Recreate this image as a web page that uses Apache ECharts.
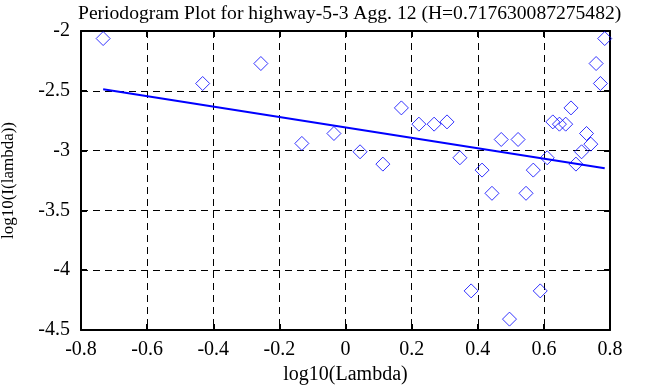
<!DOCTYPE html>
<html><head><meta charset="utf-8">
<script src="https://cdn.jsdelivr.net/npm/echarts@6/dist/echarts.min.js"></script>
<style>html,body{margin:0;padding:0;background:#fff}#c{width:663px;height:387px}</style>
</head><body><div id="c"></div>
<script>
var titleText = 'Periodogram Plot for highway-5-3 Agg. 12 (H=0.717630087275482)';
var xName = 'log10(Lambda)';
var yName = 'log10(I(lambda))';
var xTicks = [-0.8, -0.6, -0.4, -0.2, 0, 0.2, 0.4, 0.6, 0.8];
var yTicks = [-4.5, -4, -3.5, -3, -2.5, -2];
var logLambda = [-0.733, -0.432, -0.256, -0.132, -0.035, 0.044, 0.113, 0.169, 0.222, 0.268, 0.307, 0.346, 0.380, 0.413, 0.443, 0.471, 0.496, 0.522, 0.546, 0.568, 0.589, 0.610, 0.627, 0.647, 0.666, 0.682, 0.697, 0.714, 0.729, 0.742, 0.758, 0.771, 0.784];
var logI = [-2.063, -2.439, -2.272, -2.940, -2.857, -3.010, -3.113, -2.643, -2.779, -2.779, -2.760, -3.060, -4.173, -3.163, -3.357, -2.907, -4.409, -2.907, -3.357, -3.163, -4.173, -3.060, -2.760, -2.779, -2.779, -2.643, -3.113, -3.010, -2.857, -2.946, -2.272, -2.439, -2.063];
var fitX = [-0.733, 0.784];
var fitY = [-2.487, -3.147];

var font = 'Liberation Serif';
var pts = logLambda.map(function(x, i){ return [x, logI[i]]; });
var fit = fitX.map(function(x, i){ return [x, fitY[i]]; });
var chart = echarts.init(document.getElementById('c'));
var lineStyleAxis = {color:'#000', width:2};
var tickStyle = {show:true, inside:true, length:6, lineStyle:{color:'#000', width:2}};
var fmt = function(v){ return String(Math.round(v*10)/10); };
chart.setOption({
  animation:false,
  backgroundColor:'#fff',
  title:{text:titleText, left:73, top:-1, textStyle:{fontFamily:font, fontSize:19.6, fontWeight:'normal', color:'#000'}},
  grid:{left:81, right:53, top:31, bottom:57, containLabel:false, outerBoundsMode:'none'},
  xAxis:[{
    type:'value', min:xTicks[0], max:xTicks[xTicks.length-1], interval:0.2,
    name:xName, nameLocation:'middle', nameGap:35,
    nameTextStyle:{fontFamily:font, fontSize:20, color:'#000'},
    axisLine:{show:true, onZero:false, lineStyle:lineStyleAxis},
    axisTick:tickStyle,
    axisLabel:{fontFamily:font, fontSize:20, color:'#000', margin:10, formatter:fmt},
    splitLine:{show:true, lineStyle:{color:'#000', type:[7,5], width:1}}
  },{
    type:'value', position:'top', min:xTicks[0], max:xTicks[xTicks.length-1], interval:0.2,
    axisLine:{show:true, onZero:false, lineStyle:lineStyleAxis},
    axisTick:tickStyle,
    axisLabel:{show:false}, splitLine:{show:false}
  }],
  yAxis:[{
    type:'value', min:yTicks[0], max:yTicks[yTicks.length-1], interval:0.5,
    name:yName, nameLocation:'middle', nameGap:64, nameRotate:90,
    nameTextStyle:{fontFamily:font, fontSize:17, color:'#000'},
    axisLine:{show:true, onZero:false, lineStyle:lineStyleAxis},
    axisTick:tickStyle,
    axisLabel:{fontFamily:font, fontSize:20, color:'#000', margin:11, formatter:fmt},
    splitLine:{show:true, lineStyle:{color:'#000', type:[7,5], width:1}}
  },{
    type:'value', position:'right', min:yTicks[0], max:yTicks[yTicks.length-1], interval:0.5,
    axisLine:{show:true, onZero:false, lineStyle:lineStyleAxis},
    axisTick:tickStyle,
    axisLabel:{show:false}, splitLine:{show:false}
  }],
  series:[{
    type:'scatter', data:pts, symbol:'diamond', symbolSize:14,
    itemStyle:{color:'rgba(0,0,0,0)', borderColor:'#0000ff', borderWidth:1}
  },{
    type:'line', data:fit, symbol:'none', lineStyle:{color:'#0000ff', width:2}
  }]
});
</script></body></html>
